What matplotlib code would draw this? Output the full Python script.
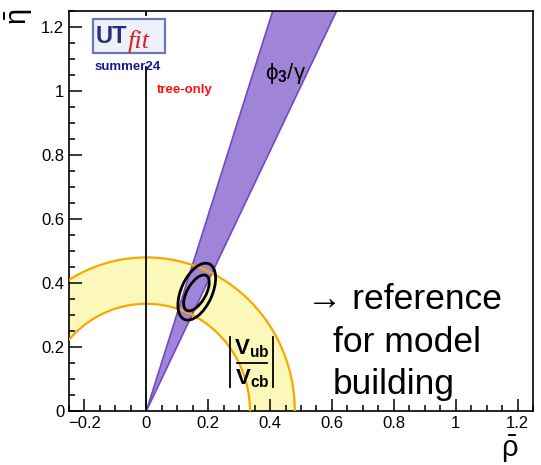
#UTfit style rho-eta plane, tree-only constraints

import matplotlib.pyplot as plt
import numpy as np
from matplotlib.patches import Polygon, Ellipse, Rectangle

plt.rcParams['font.family'] = ['Liberation Sans', 'DejaVu Sans']
plt.rcParams['mathtext.fontset'] = 'custom'
plt.rcParams['mathtext.rm'] = 'Liberation Sans'
plt.rcParams['mathtext.it'] = 'Liberation Sans:italic'
plt.rcParams['mathtext.bf'] = 'Liberation Sans:bold'

#CONSTRAINTS
vub_radii = [0.335, 0.480] #inner, outer radius of |Vub/Vcb| band
gamma_deg = [63.8, 71.9] #phi3/gamma band limits in degrees
ell_centers = [(0.163, 0.373), (0.162, 0.369)] #outer, inner contour
ell_semi_a = [0.0956, 0.063]
ell_semi_b = [0.050, 0.030]
ell_angle = [64.6, 59]
vline_x = 0.0
vline_top = 1.076

#AXES
x_range = (-0.25, 1.25)
y_range = (0.0, 1.25)
x_major = [-0.2, 0, 0.2, 0.4, 0.6, 0.8, 1.0, 1.2]
y_major = [0, 0.2, 0.4, 0.6, 0.8, 1.0, 1.2]

fig = plt.figure(figsize=(5.41, 4.65), dpi=100)
ax = fig.add_axes([69/541, 54/465, 464/541, 400/465])
ax.set_xlim(x_range)
ax.set_ylim(y_range)

#yellow |Vub/Vcb| annulus
phi = np.linspace(0, np.pi, 300)
r_in, r_out = vub_radii
ring = np.concatenate([np.column_stack([r_out*np.cos(phi), r_out*np.sin(phi)]),
                       np.column_stack([r_in*np.cos(phi[::-1]), r_in*np.sin(phi[::-1])])])
ax.add_patch(Polygon(ring, closed=True, facecolor='#fbf8b9', edgecolor='none', zorder=1))

#purple gamma wedge
big = 3.0
g1, g2 = np.radians(gamma_deg)
wedge = [(0, 0), (big*np.cos(g1), big*np.sin(g1)), (big*np.cos(g2), big*np.sin(g2))]
ax.add_patch(Polygon(wedge, closed=True, facecolor='#a084d8', edgecolor='#7447c4', lw=1.2, zorder=2))

#orange band edges on top
for r in vub_radii:
    ax.plot(r*np.cos(phi), r*np.sin(phi), color='#f7a800', lw=1.6, zorder=3)

#vertical line at rho=0
ax.plot([vline_x, vline_x], [0, vline_top], color='black', lw=1.3, zorder=4)
ax.plot([vline_x, vline_x], [1.237, 1.25], color='black', lw=1.3, zorder=4)

#fit contours
for c, a, b, ang in zip(ell_centers, ell_semi_a, ell_semi_b, ell_angle):
    ax.add_patch(Ellipse(c, 2*a, 2*b, angle=ang, fill=False, edgecolor='black', lw=2.0, zorder=5))

#labels in the plane
ax.text(0.451, 1.056, r'$\mathrm{\phi}_{\mathbf{3}}\mathrm{/\gamma}$', fontsize=16, ha='center', va='center', zorder=6)

#|Vub/Vcb| label built by hand
ax.text(0.341, 0.194, r'$\mathbf{V_{ub}}$', fontsize=16, ha='center', va='center', zorder=6)
ax.text(0.341, 0.100, r'$\mathbf{V_{cb}}$', fontsize=16, ha='center', va='center', zorder=6)
ax.plot([0.293, 0.390], [0.151, 0.151], color='black', lw=1.3, zorder=6)
ax.plot([0.272, 0.272], [0.075, 0.231], color='black', lw=1.3, zorder=6)
ax.plot([0.408, 0.408], [0.075, 0.231], color='black', lw=1.3, zorder=6)

ax.text(0.035, 1.003, 'tree-only', color='#ff1010', fontsize=9.5, fontweight='bold',
        ha='left', va='center', zorder=6)

ax.text(0.52, 0.319, '\u2192 reference', fontsize=25.5, ha='left', va='baseline', zorder=6)
ax.text(0.602, 0.184, 'for model', fontsize=25.5, ha='left', va='baseline', zorder=6)
ax.text(0.602, 0.053, 'building', fontsize=25.5, ha='left', va='baseline', zorder=6)

#ticks
ax.set_xticks(x_major)
ax.set_yticks(y_major)
ax.set_xticks(np.arange(-0.25, 1.2501, 0.05), minor=True)
ax.set_yticks(np.arange(0, 1.2501, 0.05), minor=True)
fmt = lambda v, p: ('%g' % round(v, 2)).replace('-', '\u2212')
ax.xaxis.set_major_formatter(plt.FuncFormatter(fmt))
ax.yaxis.set_major_formatter(plt.FuncFormatter(fmt))
ax.tick_params(which='both', direction='in', top=False, right=False, width=1.1, labelsize=12, pad=3.5)
ax.tick_params(which='major', length=9)
ax.tick_params(which='minor', length=4.5)
for s in ax.spines.values():
    s.set_linewidth(1.2)

#axis titles
fig.text(510/541, 1 - 449/465, r'$\bar{\mathrm{\rho}}$', fontsize=21, ha='center', va='center')
fig.text(19/541, 1 - 17/465, r'$\bar{\mathrm{\eta}}$', fontsize=21, ha='center', va='center', rotation=90)

#UTfit logo
fig.patches.append(Rectangle((93/541, 1 - 53/465), 72/541, 34/465, transform=fig.transFigure,
                             facecolor='#eef0fa', edgecolor='#6c78b0', lw=1.6))
fig.text(96/541, 1 - 43/465, 'UT', color='#26307a', fontsize=17, fontweight='bold',
         ha='left', va='baseline')
fig.text(128/541, 1 - 48/465, 'fit', color='#d42424', fontsize=19, style='italic',
         family='Liberation Serif', ha='left', va='baseline')
fig.text(128/541, 1 - 67/465, 'summer24', color='#1a1a90', fontsize=9.5, fontweight='bold',
         ha='center', va='center')

plt.savefig('out.png', dpi=100)
